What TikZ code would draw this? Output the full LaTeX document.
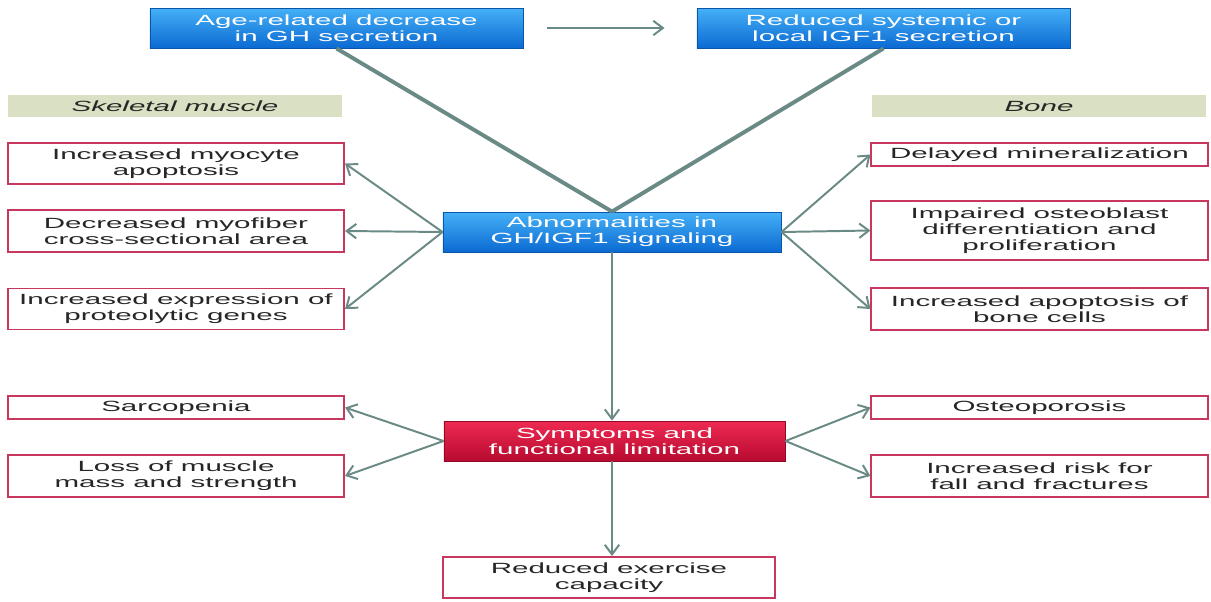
\documentclass[tikz,border=0pt]{standalone}
\usepackage{fontspec}
\usetikzlibrary{arrows.meta}
\newfontfamily\boxfont[FakeStretch=2]{Liberation Sans}
\definecolor{arrowgray}{HTML}{6A8A86}
\definecolor{boxred}{HTML}{C8375E}
\definecolor{headgreen}{HTML}{D9E0C3}
\definecolor{bluetop}{HTML}{45B0F7}
\definecolor{bluebot}{HTML}{0B6AD2}
\definecolor{redtop}{HTML}{EE2A52}
\definecolor{redbot}{HTML}{B80A30}

\begin{document}
\begin{tikzpicture}[x=0.025cm,y=-0.025cm,
  every node/.style={font=\boxfont\fontsize{10.5}{11.6}\selectfont,align=center,inner sep=0pt},
  bluebox/.style={draw=bluebot!80!black,line width=0.6pt,top color=bluetop,bottom color=bluebot,text=white,minimum width=9.325cm,minimum height=1cm},
  redbox/.style={draw=redbot!80!black,line width=0.6pt,top color=redtop,bottom color=redbot,text=white,minimum height=1cm},
  outbox/.style={draw=boxred,line width=1.4pt,fill=white,text=black!85,minimum width=8.4cm},
  headbox/.style={fill=headgreen,font=\boxfont\itshape\fontsize{10.5}{11.6}\selectfont,text=black!85,minimum width=8.35cm,minimum height=0.55cm},
  link/.style={draw=arrowgray,line width=1.4pt,-{Straight Barb[length=2.4mm,width=3.6mm]}},
  feed/.style={draw=arrowgray,line width=2.8pt}]
\useasboundingbox (0,0) rectangle (1211,601);

\node[bluebox] (gh) at (336.5,28) {Age-related decrease\\in GH secretion};
\node[bluebox] (igf) at (883.5,28) {Reduced systemic or\\local IGF1 secretion};

\node[headbox] (muscle) at (175,106) {Skeletal muscle};
\node[headbox] (bone) at (1039,106) {Bone};

\node[bluebox,minimum width=8.45cm] (abn) at (612,232) {Abnormalities in\\GH/IGF1 signaling};
\node[redbox,minimum width=8.525cm] (sym) at (614.5,441) {Symptoms and\\functional limitation};
\node[outbox,minimum width=8.3cm,minimum height=1.025cm] (exer) at (609,577.5) {Reduced exercise\\capacity};

\node[outbox,minimum height=1.025cm] (myo) at (176,163.5) {Increased myocyte\\apoptosis};
\node[outbox,minimum height=1.05cm] (fiber) at (176,231) {Decreased myofiber\\cross-sectional area};
\node[outbox,minimum height=1.025cm] (prot) at (176,309) {Increased expression of\\proteolytic genes};
\node[outbox,minimum height=0.575cm] (sarc) at (176,407.5) {Sarcopenia};
\node[outbox,minimum height=1.05cm] (mass) at (176,476) {Loss of muscle\\mass and strength};

\node[outbox,minimum height=0.575cm] (mineral) at (1039.5,154.5) {Delayed mineralization};
\node[outbox,minimum height=1.475cm] (osteo) at (1039.5,230.5) {Impaired osteoblast\\differentiation and\\proliferation};
\node[outbox,minimum height=1.05cm] (bcell) at (1039.5,309) {Increased apoptosis of\\bone cells};
\node[outbox,minimum height=0.575cm] (porosis) at (1039.5,407.5) {Osteoporosis};
\node[outbox,minimum height=1.05cm] (fall) at (1039.5,476) {Increased risk for\\fall and fractures};

\draw[link,shorten <=0.6cm,shorten >=0.8cm] (gh.east) -- (igf.west);
\draw[feed] (gh.south) -- (abn.north);
\draw[feed] (igf.south) -- (abn.north);

\foreach \t in {myo,fiber,prot}
  \draw[link] (abn.west) -- (\t.east);
\foreach \t in {mineral,osteo,bcell}
  \draw[link] (abn.east) -- (\t.west);
\draw[link] (abn.south) -- (abn.south |- sym.north);

\foreach \t in {sarc,mass}
  \draw[link] (sym.west) -- (\t.east);
\foreach \t in {porosis,fall}
  \draw[link] (sym.east) -- (\t.west);
\draw[link] (abn.south |- sym.south) -- (abn.south |- exer.north);
\end{tikzpicture}
\end{document}
